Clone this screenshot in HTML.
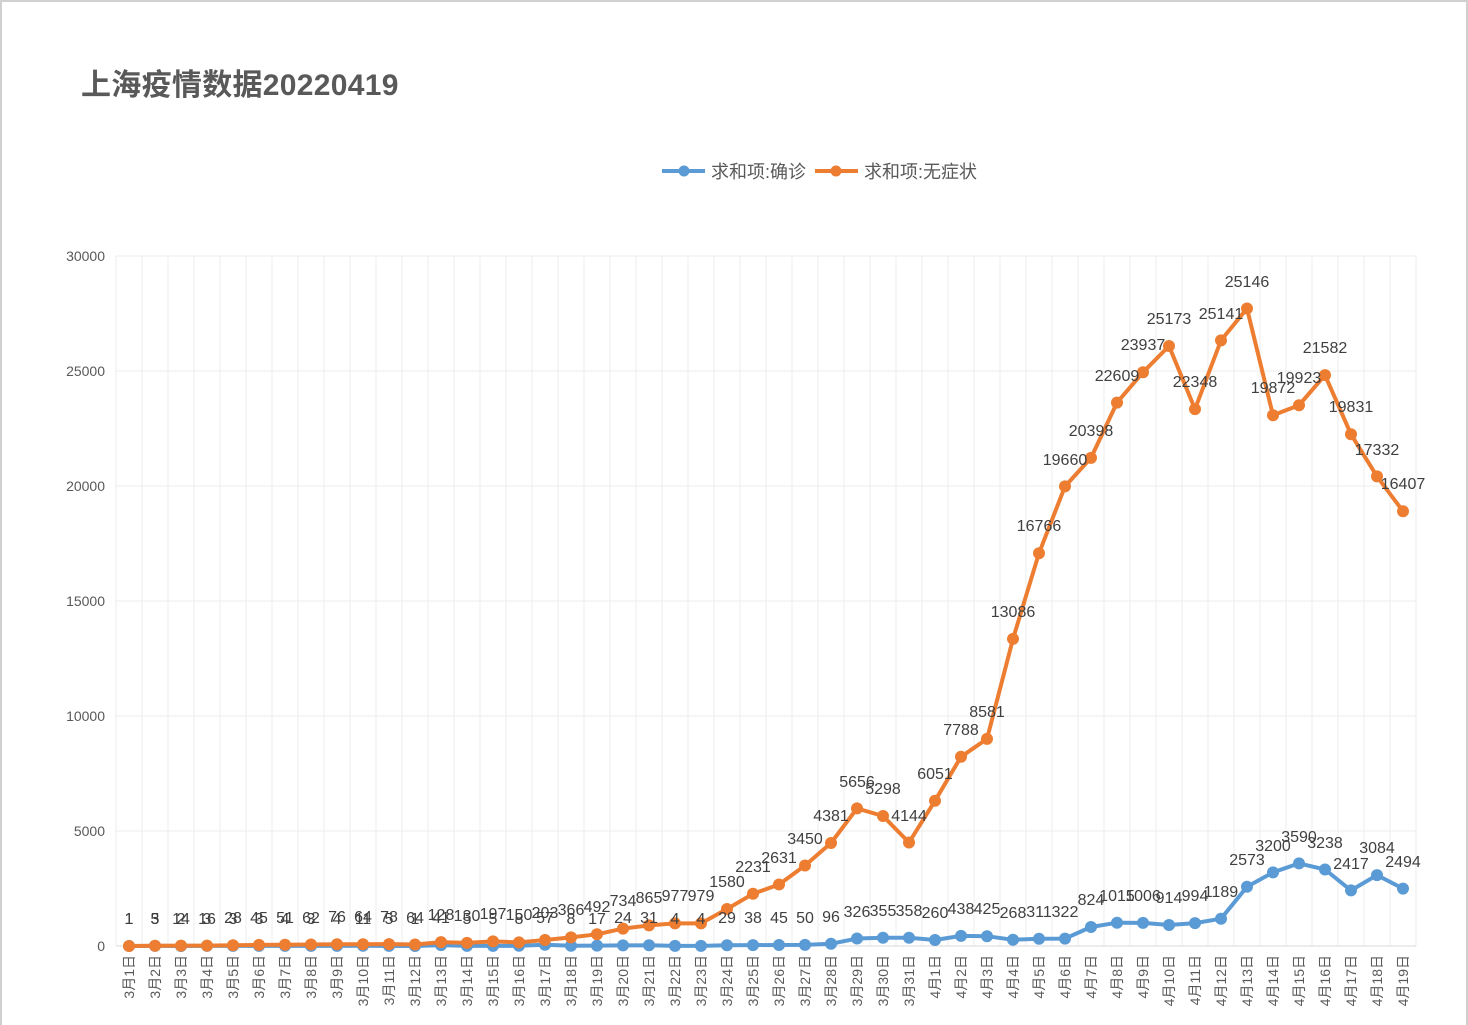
<!DOCTYPE html>
<html><head><meta charset="utf-8"><style>
html,body{margin:0;padding:0;background:#fff;width:1468px;height:1025px;overflow:hidden}
svg{display:block}
text{font-family:"Liberation Sans","Noto Sans CJK SC",sans-serif}
</style></head><body>
<svg width="1468" height="1025" viewBox="0 0 1468 1025" xmlns="http://www.w3.org/2000/svg">
<rect x="1" y="1" width="1466" height="1030" fill="#fff" stroke="#d0d0d0" stroke-width="2"/>
<text x="81" y="95" font-size="30" font-weight="bold" fill="#595959" letter-spacing="0.3">上海疫情数据20220419</text>
<g font-size="18" fill="#595959">
<line x1="662" y1="171" x2="705" y2="171" stroke="#5b9bd5" stroke-width="4"/><circle cx="684" cy="171" r="5.5" fill="#5b9bd5"/>
<text x="711" y="178">求和项:确诊</text>
<line x1="815" y1="171" x2="858" y2="171" stroke="#ed7d31" stroke-width="4"/><circle cx="836" cy="171" r="5.5" fill="#ed7d31"/>
<text x="864" y="178">求和项:无症状</text>
</g>
<g stroke="#ececec" stroke-width="1">
<line x1="116" y1="256" x2="1416" y2="256"/><line x1="116" y1="371" x2="1416" y2="371"/><line x1="116" y1="486" x2="1416" y2="486"/><line x1="116" y1="601" x2="1416" y2="601"/><line x1="116" y1="716" x2="1416" y2="716"/><line x1="116" y1="831" x2="1416" y2="831"/>
<line x1="116" y1="256" x2="116" y2="946"/><line x1="142" y1="256" x2="142" y2="946"/><line x1="168" y1="256" x2="168" y2="946"/><line x1="194" y1="256" x2="194" y2="946"/><line x1="220" y1="256" x2="220" y2="946"/><line x1="246" y1="256" x2="246" y2="946"/><line x1="272" y1="256" x2="272" y2="946"/><line x1="298" y1="256" x2="298" y2="946"/><line x1="324" y1="256" x2="324" y2="946"/><line x1="350" y1="256" x2="350" y2="946"/><line x1="376" y1="256" x2="376" y2="946"/><line x1="402" y1="256" x2="402" y2="946"/><line x1="428" y1="256" x2="428" y2="946"/><line x1="454" y1="256" x2="454" y2="946"/><line x1="480" y1="256" x2="480" y2="946"/><line x1="506" y1="256" x2="506" y2="946"/><line x1="532" y1="256" x2="532" y2="946"/><line x1="558" y1="256" x2="558" y2="946"/><line x1="584" y1="256" x2="584" y2="946"/><line x1="610" y1="256" x2="610" y2="946"/><line x1="636" y1="256" x2="636" y2="946"/><line x1="662" y1="256" x2="662" y2="946"/><line x1="688" y1="256" x2="688" y2="946"/><line x1="714" y1="256" x2="714" y2="946"/><line x1="740" y1="256" x2="740" y2="946"/><line x1="766" y1="256" x2="766" y2="946"/><line x1="792" y1="256" x2="792" y2="946"/><line x1="818" y1="256" x2="818" y2="946"/><line x1="844" y1="256" x2="844" y2="946"/><line x1="870" y1="256" x2="870" y2="946"/><line x1="896" y1="256" x2="896" y2="946"/><line x1="922" y1="256" x2="922" y2="946"/><line x1="948" y1="256" x2="948" y2="946"/><line x1="974" y1="256" x2="974" y2="946"/><line x1="1000" y1="256" x2="1000" y2="946"/><line x1="1026" y1="256" x2="1026" y2="946"/><line x1="1052" y1="256" x2="1052" y2="946"/><line x1="1078" y1="256" x2="1078" y2="946"/><line x1="1104" y1="256" x2="1104" y2="946"/><line x1="1130" y1="256" x2="1130" y2="946"/><line x1="1156" y1="256" x2="1156" y2="946"/><line x1="1182" y1="256" x2="1182" y2="946"/><line x1="1208" y1="256" x2="1208" y2="946"/><line x1="1234" y1="256" x2="1234" y2="946"/><line x1="1260" y1="256" x2="1260" y2="946"/><line x1="1286" y1="256" x2="1286" y2="946"/><line x1="1312" y1="256" x2="1312" y2="946"/><line x1="1338" y1="256" x2="1338" y2="946"/><line x1="1364" y1="256" x2="1364" y2="946"/><line x1="1390" y1="256" x2="1390" y2="946"/><line x1="1416" y1="256" x2="1416" y2="946"/>
</g>
<line x1="116" y1="946" x2="1416" y2="946" stroke="#d9d9d9" stroke-width="1"/>
<g font-size="14" fill="#595959" text-anchor="end">
<text x="105" y="261">30000</text><text x="105" y="376">25000</text><text x="105" y="491">20000</text><text x="105" y="606">15000</text><text x="105" y="721">10000</text><text x="105" y="836">5000</text><text x="105" y="951">0</text>
</g>
<polyline fill="none" stroke="#5b9bd5" stroke-width="4" stroke-linejoin="round" points="129,946 155,945.9 181,946 207,945.9 233,945.9 259,945.9 285,945.9 311,945.9 337,945.9 363,945.7 389,945.9 415,946 441,945.1 467,945.9 493,945.9 519,945.8 545,944.7 571,945.8 597,945.6 623,945.4 649,945.3 675,945.9 701,945.9 727,945.3 753,945.1 779,945 805,944.9 831,943.8 857,938.5 883,937.8 909,937.8 935,940 961,935.9 987,936.2 1013,939.8 1039,938.8 1065,938.6 1091,927 1117,922.7 1143,922.9 1169,925 1195,923.1 1221,918.7 1247,886.8 1273,872.4 1299,863.4 1325,869.5 1351,890.4 1377,875.1 1403,888.6"/>
<g fill="#5b9bd5">
<circle cx="129" cy="946" r="6"/><circle cx="155" cy="945.9" r="6"/><circle cx="181" cy="946" r="6"/><circle cx="207" cy="945.9" r="6"/><circle cx="233" cy="945.9" r="6"/><circle cx="259" cy="945.9" r="6"/><circle cx="285" cy="945.9" r="6"/><circle cx="311" cy="945.9" r="6"/><circle cx="337" cy="945.9" r="6"/><circle cx="363" cy="945.7" r="6"/><circle cx="389" cy="945.9" r="6"/><circle cx="415" cy="946" r="6"/><circle cx="441" cy="945.1" r="6"/><circle cx="467" cy="945.9" r="6"/><circle cx="493" cy="945.9" r="6"/><circle cx="519" cy="945.8" r="6"/><circle cx="545" cy="944.7" r="6"/><circle cx="571" cy="945.8" r="6"/><circle cx="597" cy="945.6" r="6"/><circle cx="623" cy="945.4" r="6"/><circle cx="649" cy="945.3" r="6"/><circle cx="675" cy="945.9" r="6"/><circle cx="701" cy="945.9" r="6"/><circle cx="727" cy="945.3" r="6"/><circle cx="753" cy="945.1" r="6"/><circle cx="779" cy="945" r="6"/><circle cx="805" cy="944.9" r="6"/><circle cx="831" cy="943.8" r="6"/><circle cx="857" cy="938.5" r="6"/><circle cx="883" cy="937.8" r="6"/><circle cx="909" cy="937.8" r="6"/><circle cx="935" cy="940" r="6"/><circle cx="961" cy="935.9" r="6"/><circle cx="987" cy="936.2" r="6"/><circle cx="1013" cy="939.8" r="6"/><circle cx="1039" cy="938.8" r="6"/><circle cx="1065" cy="938.6" r="6"/><circle cx="1091" cy="927" r="6"/><circle cx="1117" cy="922.7" r="6"/><circle cx="1143" cy="922.9" r="6"/><circle cx="1169" cy="925" r="6"/><circle cx="1195" cy="923.1" r="6"/><circle cx="1221" cy="918.7" r="6"/><circle cx="1247" cy="886.8" r="6"/><circle cx="1273" cy="872.4" r="6"/><circle cx="1299" cy="863.4" r="6"/><circle cx="1325" cy="869.5" r="6"/><circle cx="1351" cy="890.4" r="6"/><circle cx="1377" cy="875.1" r="6"/><circle cx="1403" cy="888.6" r="6"/>
</g>
<polyline fill="none" stroke="#ed7d31" stroke-width="4" stroke-linejoin="round" points="129,946 155,945.8 181,945.6 207,945.6 233,945.3 259,944.9 285,944.7 311,944.5 337,944.2 363,944.3 389,944.1 415,944.5 441,942.1 467,942.9 493,941.4 519,942.4 545,940 571,937.4 597,934.3 623,928.6 649,925.4 675,923.4 701,923.4 727,909 753,893.8 779,884.5 805,865.5 831,843 857,808.4 883,816 909,842.5 935,800.8 961,756.8 987,738.9 1013,638.9 1039,553.2 1065,486.4 1091,457.9 1117,402.6 1143,372.3 1169,346 1195,409.1 1221,340.4 1247,308.5 1273,415.3 1299,405.2 1325,375.1 1351,434.3 1377,476.4 1403,511.3"/>
<g fill="#ed7d31">
<circle cx="129" cy="946" r="6"/><circle cx="155" cy="945.8" r="6"/><circle cx="181" cy="945.6" r="6"/><circle cx="207" cy="945.6" r="6"/><circle cx="233" cy="945.3" r="6"/><circle cx="259" cy="944.9" r="6"/><circle cx="285" cy="944.7" r="6"/><circle cx="311" cy="944.5" r="6"/><circle cx="337" cy="944.2" r="6"/><circle cx="363" cy="944.3" r="6"/><circle cx="389" cy="944.1" r="6"/><circle cx="415" cy="944.5" r="6"/><circle cx="441" cy="942.1" r="6"/><circle cx="467" cy="942.9" r="6"/><circle cx="493" cy="941.4" r="6"/><circle cx="519" cy="942.4" r="6"/><circle cx="545" cy="940" r="6"/><circle cx="571" cy="937.4" r="6"/><circle cx="597" cy="934.3" r="6"/><circle cx="623" cy="928.6" r="6"/><circle cx="649" cy="925.4" r="6"/><circle cx="675" cy="923.4" r="6"/><circle cx="701" cy="923.4" r="6"/><circle cx="727" cy="909" r="6"/><circle cx="753" cy="893.8" r="6"/><circle cx="779" cy="884.5" r="6"/><circle cx="805" cy="865.5" r="6"/><circle cx="831" cy="843" r="6"/><circle cx="857" cy="808.4" r="6"/><circle cx="883" cy="816" r="6"/><circle cx="909" cy="842.5" r="6"/><circle cx="935" cy="800.8" r="6"/><circle cx="961" cy="756.8" r="6"/><circle cx="987" cy="738.9" r="6"/><circle cx="1013" cy="638.9" r="6"/><circle cx="1039" cy="553.2" r="6"/><circle cx="1065" cy="486.4" r="6"/><circle cx="1091" cy="457.9" r="6"/><circle cx="1117" cy="402.6" r="6"/><circle cx="1143" cy="372.3" r="6"/><circle cx="1169" cy="346" r="6"/><circle cx="1195" cy="409.1" r="6"/><circle cx="1221" cy="340.4" r="6"/><circle cx="1247" cy="308.5" r="6"/><circle cx="1273" cy="415.3" r="6"/><circle cx="1299" cy="405.2" r="6"/><circle cx="1325" cy="375.1" r="6"/><circle cx="1351" cy="434.3" r="6"/><circle cx="1377" cy="476.4" r="6"/><circle cx="1403" cy="511.3" r="6"/>
</g>
<g font-size="16" fill="#404040" text-anchor="middle">
<text x="129" y="924">1</text><text x="155" y="924">3</text><text x="181" y="924">2</text><text x="207" y="924">3</text><text x="233" y="924">3</text><text x="259" y="924">3</text><text x="285" y="924">4</text><text x="311" y="924">3</text><text x="337" y="924">4</text><text x="363" y="924">11</text><text x="389" y="924">5</text><text x="415" y="924">1</text><text x="441" y="923">41</text><text x="467" y="924">5</text><text x="493" y="924">5</text><text x="519" y="924">8</text><text x="545" y="923">57</text><text x="571" y="924">8</text><text x="597" y="924">17</text><text x="623" y="923">24</text><text x="649" y="923">31</text><text x="675" y="924">4</text><text x="701" y="924">4</text><text x="727" y="923">29</text><text x="753" y="923">38</text><text x="779" y="923">45</text><text x="805" y="923">50</text><text x="831" y="922">96</text><text x="857" y="917">326</text><text x="883" y="916">355</text><text x="909" y="916">358</text><text x="935" y="918">260</text><text x="961" y="914">438</text><text x="987" y="914">425</text><text x="1013" y="918">268</text><text x="1039" y="917">311</text><text x="1065" y="917">322</text><text x="1091" y="905">824</text><text x="1117" y="901">1015</text><text x="1143" y="901">1006</text><text x="1169" y="903">914</text><text x="1195" y="901">994</text><text x="1221" y="897">1189</text><text x="1247" y="865">2573</text><text x="1273" y="851">3200</text><text x="1299" y="842">3590</text><text x="1325" y="848">3238</text><text x="1351" y="869">2417</text><text x="1377" y="853">3084</text><text x="1403" y="867">2494</text>
</g>
<g font-size="16" fill="#404040" text-anchor="middle">
<text x="129" y="924">1</text><text x="155" y="924">5</text><text x="181" y="924">14</text><text x="207" y="924">16</text><text x="233" y="923">28</text><text x="259" y="923">45</text><text x="285" y="923">51</text><text x="311" y="923">62</text><text x="337" y="922">76</text><text x="363" y="922">64</text><text x="389" y="922">78</text><text x="415" y="923">64</text><text x="441" y="920">128</text><text x="467" y="921">130</text><text x="493" y="919">197</text><text x="519" y="920">150</text><text x="545" y="918">203</text><text x="571" y="915">366</text><text x="597" y="912">492</text><text x="623" y="906">734</text><text x="649" y="903">865</text><text x="675" y="901">977</text><text x="701" y="901">979</text><text x="727" y="887">1580</text><text x="753" y="872">2231</text><text x="779" y="863">2631</text><text x="805" y="844">3450</text><text x="831" y="821">4381</text><text x="857" y="787">5656</text><text x="883" y="794">5298</text><text x="909" y="821">4144</text><text x="935" y="779">6051</text><text x="961" y="735">7788</text><text x="987" y="717">8581</text><text x="1013" y="617">13086</text><text x="1039" y="531">16766</text><text x="1065" y="465">19660</text><text x="1091" y="436">20398</text><text x="1117" y="381">22609</text><text x="1143" y="350">23937</text><text x="1169" y="324">25173</text><text x="1195" y="387">22348</text><text x="1221" y="319">25141</text><text x="1247" y="287">25146</text><text x="1273" y="393">19872</text><text x="1299" y="383">19923</text><text x="1325" y="353">21582</text><text x="1351" y="412">19831</text><text x="1377" y="455">17332</text><text x="1403" y="489">16407</text>
</g>
<g font-size="14" fill="#595959" text-anchor="end">
<text transform="translate(134,955) rotate(-90)">3月1日</text><text transform="translate(160,955) rotate(-90)">3月2日</text><text transform="translate(186,955) rotate(-90)">3月3日</text><text transform="translate(212,955) rotate(-90)">3月4日</text><text transform="translate(238,955) rotate(-90)">3月5日</text><text transform="translate(264,955) rotate(-90)">3月6日</text><text transform="translate(290,955) rotate(-90)">3月7日</text><text transform="translate(316,955) rotate(-90)">3月8日</text><text transform="translate(342,955) rotate(-90)">3月9日</text><text transform="translate(368,955) rotate(-90)">3月10日</text><text transform="translate(394,955) rotate(-90)">3月11日</text><text transform="translate(420,955) rotate(-90)">3月12日</text><text transform="translate(446,955) rotate(-90)">3月13日</text><text transform="translate(472,955) rotate(-90)">3月14日</text><text transform="translate(498,955) rotate(-90)">3月15日</text><text transform="translate(524,955) rotate(-90)">3月16日</text><text transform="translate(550,955) rotate(-90)">3月17日</text><text transform="translate(576,955) rotate(-90)">3月18日</text><text transform="translate(602,955) rotate(-90)">3月19日</text><text transform="translate(628,955) rotate(-90)">3月20日</text><text transform="translate(654,955) rotate(-90)">3月21日</text><text transform="translate(680,955) rotate(-90)">3月22日</text><text transform="translate(706,955) rotate(-90)">3月23日</text><text transform="translate(732,955) rotate(-90)">3月24日</text><text transform="translate(758,955) rotate(-90)">3月25日</text><text transform="translate(784,955) rotate(-90)">3月26日</text><text transform="translate(810,955) rotate(-90)">3月27日</text><text transform="translate(836,955) rotate(-90)">3月28日</text><text transform="translate(862,955) rotate(-90)">3月29日</text><text transform="translate(888,955) rotate(-90)">3月30日</text><text transform="translate(914,955) rotate(-90)">3月31日</text><text transform="translate(940,955) rotate(-90)">4月1日</text><text transform="translate(966,955) rotate(-90)">4月2日</text><text transform="translate(992,955) rotate(-90)">4月3日</text><text transform="translate(1018,955) rotate(-90)">4月4日</text><text transform="translate(1044,955) rotate(-90)">4月5日</text><text transform="translate(1070,955) rotate(-90)">4月6日</text><text transform="translate(1096,955) rotate(-90)">4月7日</text><text transform="translate(1122,955) rotate(-90)">4月8日</text><text transform="translate(1148,955) rotate(-90)">4月9日</text><text transform="translate(1174,955) rotate(-90)">4月10日</text><text transform="translate(1200,955) rotate(-90)">4月11日</text><text transform="translate(1226,955) rotate(-90)">4月12日</text><text transform="translate(1252,955) rotate(-90)">4月13日</text><text transform="translate(1278,955) rotate(-90)">4月14日</text><text transform="translate(1304,955) rotate(-90)">4月15日</text><text transform="translate(1330,955) rotate(-90)">4月16日</text><text transform="translate(1356,955) rotate(-90)">4月17日</text><text transform="translate(1382,955) rotate(-90)">4月18日</text><text transform="translate(1408,955) rotate(-90)">4月19日</text>
</g>
</svg>
</body></html>
